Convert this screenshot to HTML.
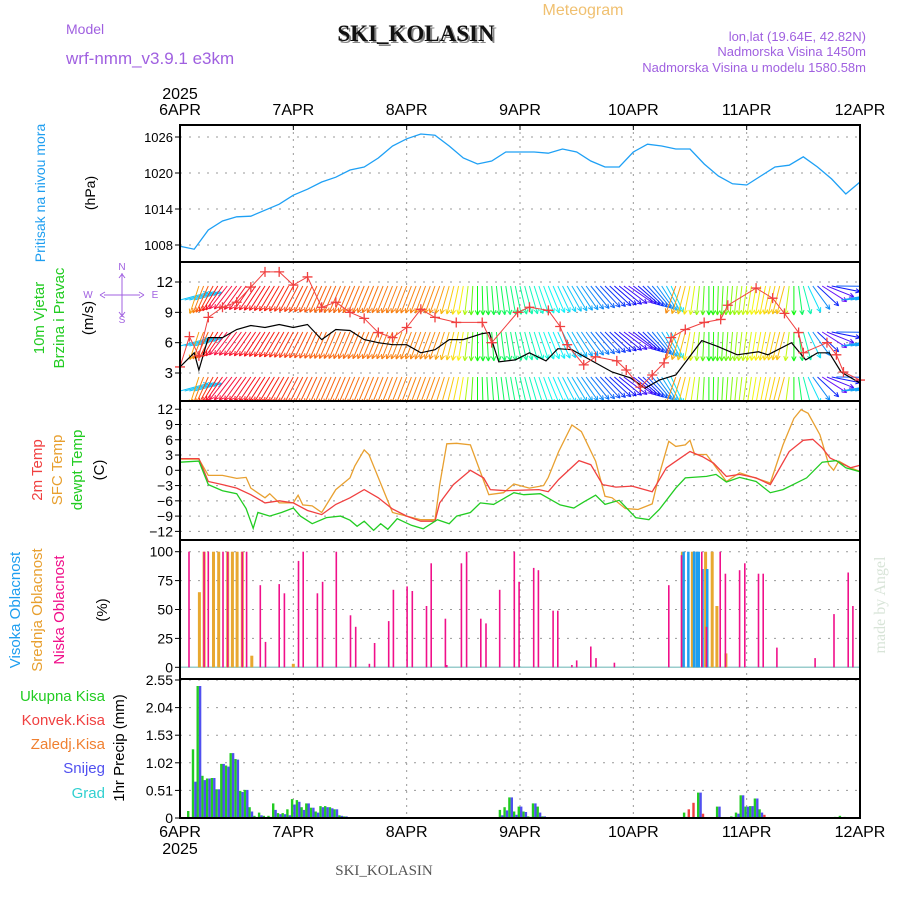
<!DOCTYPE html>
<html><head><meta charset="utf-8"><style>
html,body{margin:0;padding:0;background:#fff;}
svg{display:block;font-family:"Liberation Sans",sans-serif;}
</style></head><body>
<svg id="chart" width="900" height="900" viewBox="0 0 900 900" xmlns="http://www.w3.org/2000/svg">
<defs><clipPath id="windclip"><rect x="180" y="262" width="680" height="139"/></clipPath></defs>
<text x="583" y="15" font-size="16" fill="#f0c070" text-anchor="middle">Meteogram</text>
<text x="66" y="34" font-size="14" fill="#a060e0">Model</text>
<text x="66" y="64" font-size="17" fill="#a060e0">wrf-nmm_v3.9.1 e3km</text>
<text x="418" y="43" font-size="23" font-weight="bold" font-family="Liberation Serif, serif" fill="#888" text-anchor="middle">SKI_KOLASIN</text>
<text x="416" y="41" font-size="23" font-weight="bold" font-family="Liberation Serif, serif" fill="#111" text-anchor="middle">SKI_KOLASIN</text>
<text x="866" y="41" font-size="13" fill="#a060e0" text-anchor="end">lon,lat (19.64E, 42.82N)</text>
<text x="866" y="56" font-size="13" fill="#a060e0" text-anchor="end">Nadmorska Visina 1450m</text>
<text x="866" y="72" font-size="13" fill="#a060e0" text-anchor="end">Nadmorska Visina u modelu 1580.58m</text>
<text x="384" y="875" font-size="15" font-family="Liberation Serif, serif" fill="#555" text-anchor="middle">SKI_KOLASIN</text>
<text transform="translate(885,605) rotate(-90)" font-size="16" font-family="Liberation Serif, serif" fill="#d8e4d8" text-anchor="middle">made by Angel</text>

<text transform="translate(45,193) rotate(-90)" font-size="14" fill="#1e9ef0" text-anchor="middle">Pritisak na nivou mora</text>
<text transform="translate(95,193) rotate(-90)" font-size="14" fill="#000" text-anchor="middle">(hPa)</text>
<text transform="translate(44,318) rotate(-90)" font-size="15" fill="#22cc22" text-anchor="middle">10m Vjetar</text>
<text transform="translate(64,318) rotate(-90)" font-size="15" fill="#22cc22" text-anchor="middle">Brzina i Pravac</text>
<text transform="translate(93,318) rotate(-90)" font-size="15" fill="#000" text-anchor="middle">(m/s)</text>
<g fill="#a060e0" font-size="10" text-anchor="middle">
<text x="122" y="270">N</text><text x="88" y="298">W</text><text x="155" y="298">E</text><text x="122" y="323">S</text>
<path d="M122 273 V316 M104 295 H140 M100 295 l5 -3 M100 295 l5 3 M144 295 l-5 -3 M144 295 l-5 3 M122 274 l-3 4 M122 274 l3 4 M122 316 l-3 -4 M122 316 l3 -4" stroke="#a060e0" stroke-width="1" fill="none"/>
</g>
<text transform="translate(42,470) rotate(-90)" font-size="15" fill="#f04040" text-anchor="middle">2m Temp</text>
<text transform="translate(62,470) rotate(-90)" font-size="15" fill="#e8a030" text-anchor="middle">SFC Temp</text>
<text transform="translate(82,470) rotate(-90)" font-size="15" fill="#22cc22" text-anchor="middle">dewpt Temp</text>
<text transform="translate(104,470) rotate(-90)" font-size="15" fill="#000" text-anchor="middle">(C)</text>
<text transform="translate(20,610) rotate(-90)" font-size="15" fill="#1e9ef0" text-anchor="middle">Visoka Oblacnost</text>
<text transform="translate(42,610) rotate(-90)" font-size="15" fill="#e8a030" text-anchor="middle">Srednja Oblacnost</text>
<text transform="translate(64,610) rotate(-90)" font-size="15" fill="#f0108a" text-anchor="middle">Niska Oblacnost</text>
<text transform="translate(107,610) rotate(-90)" font-size="15" fill="#000" text-anchor="middle">(%)</text>
<text x="105" y="701" font-size="15" fill="#22cc22" text-anchor="end">Ukupna  Kisa</text>
<text x="105" y="725" font-size="15" fill="#f04040" text-anchor="end">Konvek.Kisa</text>
<text x="105" y="749" font-size="15" fill="#f08030" text-anchor="end">Zaledj.Kisa</text>
<text x="105" y="773" font-size="15" fill="#5050f0" text-anchor="end">Snijeg</text>
<text x="105" y="798" font-size="15" fill="#30d0d0" text-anchor="end">Grad</text>
<text transform="translate(124,748) rotate(-90)" font-size="15" fill="#000" text-anchor="middle">1hr Precip (mm)</text>
<g id="plot"></g>
</svg>
<script>
// ---- data ----
const dayLabels = ["6APR","7APR","8APR","9APR","10APR","11APR","12APR"];
const presHours = [0,3,6,9,12,15,18,21,24,27,30,33,36,39,42,45,48,51,54,57,60,63,66,69,72,75,78,81,84,87,90,93,96,99,102,105,108,111,114,117,120,123,126,129,132,135,138,141,144];
const presVals = [1007.8,1007.3,1010.5,1012,1012.7,1012.8,1013.8,1014.8,1016.3,1017.3,1018.5,1019.3,1020.5,1021,1022.5,1024.5,1025.7,1026.5,1026.3,1024.5,1022.5,1021.5,1022,1023.5,1023.5,1023.5,1023.3,1024,1023.5,1022,1021,1021,1023.5,1024.8,1024.5,1024,1024,1021.5,1019.5,1018.2,1018,1019.5,1021,1021.3,1022.7,1021,1019,1016.5,1018.5];
const presTicks = [1008,1014,1020,1026];
const windHours = [0,3,4,6,9,12,15,18,21,24,27,30,33,36,39,42,45,48,51,54,57,60,64,65.5,67.5,71,74,77.5,80,83,88,91.5,95.5,98.5,101.5,105,110.5,114,118,122.5,124.5,129.5,132.5,135,137.5,140,144];
const windVals = [3.6,5,3.3,6.5,6.5,7.3,7.7,7.5,7.8,7.5,7.8,6.3,7.3,7.2,6.3,6,5.8,5.8,5,5.3,6.3,6.3,6.9,7,4.1,4.3,5,4.2,5.4,5.3,4,3.1,2.5,1.5,2.3,2.8,6.2,5.6,4.8,5.1,4.8,6,4.3,5,5,3.1,2];
const gustHours = [0,2,4,6,9,12,15,18,21,24,27,30,33,36,39,42,45,48,51,54,58.5,64,66,71.5,74,78,80.5,82,85.5,88,92.5,94.5,97.5,100,102.5,104,107,111,114.5,116,122,125.5,128,131,132,137,139,140.5,144];
const gustVals = [3.6,6.6,4.7,8.5,9.5,10,11.5,13,13,11.7,12.5,9.5,10,9,8.4,7,6.5,7.5,9.3,8.5,8,8,6,9,9.5,9.2,7.6,5.8,3.8,4.6,4.2,3.3,1.6,2.8,4,6.5,7.3,8,8.3,9.7,11.4,10.4,8.9,7,5,6,4.8,3.1,2.3];
const dirHours = [0,3,4,10,30,55,60,63,80,95,100,104,105,112,128,132,140,144];
const dirVals = [255,255,18,38,24,20,10,0,335,305,320,335,20,0,15,345,260,260];
const windTicks = [3,6,9,12];
const tHours2m = [0,4,6,9,12,15,18,21,24,27,30,33,36,39,42,45,48,51,54,55,57.9,61.5,64.3,65.7,69,76,78,80.2,84.5,87,89.5,92.3,95.7,100,103,104.4,108,110.6,113,115.7,118.5,122,125,129,132,134,136,137.7,140,142,144];
const t2mVals = [2.3,2.3,-2.2,-2.8,-3.5,-4.8,-6.4,-6,-6.4,-7.9,-8.7,-6.7,-5.4,-3.8,-5.4,-7.6,-9,-10,-10,-6.4,-2.8,0,-1.5,-3.8,-4,-3.8,-4.2,-1.8,1.9,1.1,-2.8,-3.3,-3.1,-4.2,0.5,1.4,3.7,2.7,1.4,-1.2,-0.8,-1.5,-2.8,3.7,5.9,6.1,4.4,2.4,1.4,0.5,1];
const tHoursSfc = [0,4,6,9,12,14,15,18,19,21,24,25,26,28,30,33,36,37,39,40,45,48,51,54,55,56.5,58.6,61.5,65.4,68.5,70.7,74,77,78,80.2,83,85,88,90,91.5,94.3,97,100,101.5,103.5,105,107,108,109,111.5,115.7,118.5,125,127.7,130,131.5,133,135.5,137.4,138.4,139.5,142,144];
const tSfcVals = [2.2,2.2,-1,-1,-1.6,-1.4,-3.5,-5.4,-4.6,-6.4,-6.4,-4.9,-6.8,-7,-8.3,-3.8,-1.5,0.8,4,3.1,-8.3,-9,-9.7,-9.7,-2.8,5.2,5.3,5,-4.8,-4.4,-2.7,-3.5,-3,-1.4,3.7,8.9,7.6,1.8,-5.1,-5.4,-7.5,-7.7,-6.6,-0.8,5.7,4.7,5,5.9,3.1,3.1,-2.2,-0.5,-2.5,5,10.2,11.9,11.2,7,1.1,0,1.8,0.5,-0.2];
const tHoursDew = [0,4,6,9,12,14,15.5,16.5,19,21.5,24,25.5,28,31,34,36,37.5,39,41,42.5,44,46,49,51.5,54.5,57,58.6,61.5,63.6,66.4,70.7,72.8,76.3,80.5,83.4,85.5,88,90,93,96.5,99.3,101.5,105,107,111.5,113.5,115.7,118.5,122,125,127.7,132.7,136,139,141,144];
const tDewVals = [1.6,1.8,-2.8,-4,-4.6,-7.5,-11.4,-8.3,-9,-8.3,-7.4,-9,-10.5,-9.3,-9,-9.8,-11,-10,-11.8,-10.5,-11.6,-9.5,-10.8,-11.5,-9.7,-10.5,-9,-8.3,-6.4,-6.7,-4.4,-4.8,-4.6,-6.8,-7.4,-6.2,-4.9,-6.7,-5.9,-9.3,-9.7,-7.7,-3.5,-1.5,-1.2,-0.8,-2.3,-1.4,-2.2,-4.4,-3.8,-1.5,1.6,1.9,0.5,-0.3];
const tempTicks = [-12,-9,-6,-3,0,3,6,9,12];
const lowHours = [1.9,5.1,6,9.1,10.1,13.2,14.1,17,18.1,21,22.1,25.1,26.1,29.1,30.2,33.1,36.1,37.2,40.1,41.2,44.2,45.2,48.1,49.2,52.2,53.2,56.2,56.5,59.6,60.7,63.7,64.8,67.7,70.8,71.8,74.9,75.9,79,80,83,84,87,88.1,92,103.5,106.2,110.5,111.5,114.4,115.5,118.5,119.6,122.5,123.5,126.4,134.5,138.5,141.5,142.5];
const lowVals = [100,100,100,100,100,100,100,71,22,72,64,92,100,64,74,100,45,35,3,21,40,67,70,66,53,90,42,2,90,100,42,38,67,100,74,86,84,49,49,2,6,18,8,4,71,97,100,35,100,81,84,90,81,81,17,8,46,82,53];
const midHours = [4.1,5.1,7.1,8.2,10.1,11.1,12.1,13.2,15.2,24,106.4,108.5,109.5,111.3,112.7,113.7,115.6];
const midVals = [65,100,100,100,100,100,100,100,10,3,100,100,100,100,100,53,12];
const highHours = [106.6,107.6,108.8,109.4,109.8,110.6,111.6];
const highVals = [100,100,100,100,100,85,85];
const cloudTicks = [0,25,50,75,100];
const precHours = [2,3,4,5,6,7,8,9,10,11,12,13,14,15,16,17,18,19,20,21,22,23,24,25,26,27,28,29,30,31,32,33,34,35,68,69,70,71,72,73,74,75,76,77,107,110,114,117,118,119,120,121,122,123,139,140,141];
const precTotal = [0.13,1.27,2.44,0.78,0.73,0.74,0.53,1.0,0.97,1.2,1.09,0.5,0.52,0.2,0.04,0.1,0.04,0.04,0.27,0.09,0.09,0.16,0.35,0.33,0.2,0.27,0.19,0.12,0.22,0.22,0.2,0.16,0.05,0.03,0.15,0.2,0.38,0.12,0.21,0.12,0.03,0.27,0.21,0.03,0.1,0.47,0.21,0.03,0.1,0.42,0.21,0.22,0.36,0.16,0.02,0.04,0.02];
const precSnow = [0,0.67,2.44,0.7,0.73,0.74,0.53,1.0,0.95,1.2,1.08,0.48,0.52,0.12,0.02,0.05,0.02,0.02,0.15,0.07,0.07,0.05,0.25,0.3,0.15,0.27,0.19,0.1,0.2,0.2,0.18,0.16,0.04,0.03,0.05,0.14,0.38,0.06,0.21,0.11,0.02,0.27,0.1,0.03,0.02,0.47,0.21,0.02,0.08,0.42,0.21,0.22,0.36,0.1,0,0,0];
const convHours = [108,109,111,124];
const convVals = [0.16,0.28,0.08,0.06];
const precTicks = [0,0.51,1.02,1.53,2.04,2.55];

// ---- layout ----
const X0=180,X1=860,HOURS=144;
const xs = h => X0 + (X1-X0)*h/HOURS;
const yPres = v => 245 - (v-1008)*6;
const yWind = v => 373 - (v-3)*10.11;
const yTemp = v => 470.3 - v*5.09;
const yCloud = v => 667.3 - v*1.156;
const yPrec = v => 818 - v*(138/2.55);
const panels = [[125,262],[262,401],[401,540],[540,679],[679,818]];
const NS="http://www.w3.org/2000/svg";
const plot=document.getElementById('plot');
function mk(tag, attrs, parent){const e=document.createElementNS(NS,tag);for(const k in attrs)e.setAttribute(k,attrs[k]);(parent||plot).appendChild(e);return e;}

panels.forEach((p,i)=>{
  for(let d=1;d<6;d++){
    const g=mk('line',{x1:xs(d*24),x2:xs(d*24),y1:p[0],y2:p[1],stroke:'#999','stroke-dasharray':'2,5'});
    
    
  }
});
function hgrid(ticks, yf, fmt, name, fs){
  ticks.forEach(t=>{
    const y=yf(t);
    const g=mk('line',{x1:X0,x2:X1,y1:y,y2:y,stroke:'#999','stroke-dasharray':'2,7'});
    
    
    const tk=mk('line',{x1:X0-5,x2:X0,y1:y,y2:y,stroke:'#000'});
    
    
    const tx=mk('text',{x:X0-7,y:y+5,'font-size':fs,'text-anchor':'end',fill:'#000'});
    tx.textContent=fmt(t);
    
    
  });
}
hgrid(presTicks,yPres,t=>t,'pressure-y',13);
hgrid(windTicks,yWind,t=>t,'wind-y',15);
hgrid(tempTicks,yTemp,t=>(t<0?'−'+(-t):t),'temp-y',14);
hgrid(cloudTicks,yCloud,t=>t,'cloud-y',14);
hgrid(precTicks,yPrec,t=>t.toFixed(2).replace(/^0\.00$/,'0'),'precip-y',14);

function line(hs, vs, yf, color, name, w){
  const d=hs.map((h,i)=>(i?'L':'M')+xs(h).toFixed(1)+' '+yf(vs[i]).toFixed(1)).join(' ');
  const p=mk('path',{d:d,fill:'none',stroke:color,'stroke-width':w||1.3});
  
  
  return p;
}
line(presHours,presVals,yPres,'#1ea0f5','pressure-line');

function interpDir(h){
  for(let i=0;i<dirHours.length-1;i++){
    if(h>=dirHours[i]&&h<=dirHours[i+1]){
      let a=dirVals[i],b=dirVals[i+1];let diff=((b-a+540)%360)-180;
      return (a+diff*(h-dirHours[i])/(dirHours[i+1]-dirHours[i])+360)%360;
    }
  }
  return dirVals[dirVals.length-1];
}
const hueS=[-110,-60,-40,-20,0,10,20,30,45,110];
const hueH=[185,270,215,175,120,58,32,5,-30,-30];
function dirColor(d){
  let s=((d+180)%360)-180;
  s=Math.max(-110,Math.min(110,s));
  let hue=120;
  for(let i=0;i<hueS.length-1;i++){
    if(s>=hueS[i]&&s<=hueS[i+1]){hue=hueH[i]+(hueH[i+1]-hueH[i])*(s-hueS[i])/(hueS[i+1]-hueS[i]);break;}
  }
  hue=(hue+360)%360;
  return 'hsl('+hue.toFixed(0)+',95%,52%)';
}
const wg=mk('g',{'clip-path':'url(#windclip)'});


const rowBases=[286,332,377];
for(let h=0;h<=HOURS;h++){
  const d=interpDir(h);
  const to=(d+180)*Math.PI/180;
  const dx=Math.sin(to)*29, dy=-Math.cos(to)*29;
  const col=dirColor(d);
  rowBases.forEach(yb=>{
    const x0=xs(h), y0=yb+(dy<0?14:0);
    const x1=x0+dx, y1=y0+dy;
    const ang=Math.atan2(dy,dx);
    const hd=`M${x0.toFixed(1)} ${y0.toFixed(1)} L${x1.toFixed(1)} ${y1.toFixed(1)} M${x1.toFixed(1)} ${y1.toFixed(1)} L${(x1-5*Math.cos(ang-0.45)).toFixed(1)} ${(y1-5*Math.sin(ang-0.45)).toFixed(1)} M${x1.toFixed(1)} ${y1.toFixed(1)} L${(x1-5*Math.cos(ang+0.45)).toFixed(1)} ${(y1-5*Math.sin(ang+0.45)).toFixed(1)}`;
    const a=mk('path',{d:hd,stroke:col,'stroke-width':1,fill:'none'},wg);
    
    
  });
}
line(windHours,windVals,yWind,'#000','wind-speed-line',1.2);
line(gustHours,gustVals,yWind,'#f04040','wind-gust-line',1);
gustHours.forEach((h,i)=>{
  const x=xs(h),y=yWind(gustVals[i]);
  const m=mk('path',{d:`M${x-5} ${y} H${x+5} M${x} ${y-5} V${y+5}`,stroke:'#f04040','stroke-width':1.3});
  
  
});

line(tHoursSfc,tSfcVals,yTemp,'#e8a030','sfc-temp-line');
line(tHours2m,t2mVals,yTemp,'#f04040','temp-2m-line');
line(tHoursDew,tDewVals,yTemp,'#22cc22','dewpoint-line');

const z0=mk('line',{x1:X0,x2:X1,y1:yCloud(0),y2:yCloud(0),stroke:'#9cc','stroke-width':1.5});


function bars(hs, vs, yf, color, w, off, name){
  hs.forEach((h,i)=>{
    const y=yf(vs[i]), yb=yf(0);
    const r=mk('rect',{x:(xs(h)+off).toFixed(1),y:y.toFixed(1),width:w,height:Math.max(0.5,yb-y).toFixed(1),fill:color});
    
    
  });
}
bars(midHours,midVals,yCloud,'#e8a830',3,-1.5,'mid-cloud-bar');
bars(highHours,highVals,yCloud,'#1e9ef0',2.5,-1,'high-cloud-bar');
bars(lowHours,lowVals,yCloud,'#f0108a',1.6,-0.8,'low-cloud-bar');

bars(precHours,precTotal,yPrec,'#22cc22',2.4,-2.4,'total-precip-bar');
bars(precHours,precSnow,yPrec,'#5050f0',2.4,0,'snow-precip-bar');
bars(convHours,convVals,yPrec,'#f04040',2.4,-2.4,'convective-precip-bar');

panels.forEach((p,i)=>{
  const r=mk('rect',{x:X0,y:p[0],width:X1-X0,height:p[1]-p[0],fill:'none',stroke:'#000','stroke-width':2});
  
  
});
dayLabels.forEach((l,i)=>{
  const x=xs(i*24);
  const t1=mk('line',{x1:x,x2:x,y1:125,y2:130,stroke:'#000'});
  
  
  const a=mk('text',{x:x,y:115,'font-size':16,'text-anchor':'middle',fill:'#000'});
  a.textContent=l;
  
  
  const b=mk('text',{x:x,y:837,'font-size':16,'text-anchor':'middle',fill:'#000'});
  b.textContent=l;
  
  
});
const y1=mk('text',{x:xs(0),y:99,'font-size':16,'text-anchor':'middle',fill:'#000'});
y1.textContent='2025';


const y2=mk('text',{x:xs(0),y:854,'font-size':16,'text-anchor':'middle',fill:'#000'});
y2.textContent='2025';


</script>
</body></html>
